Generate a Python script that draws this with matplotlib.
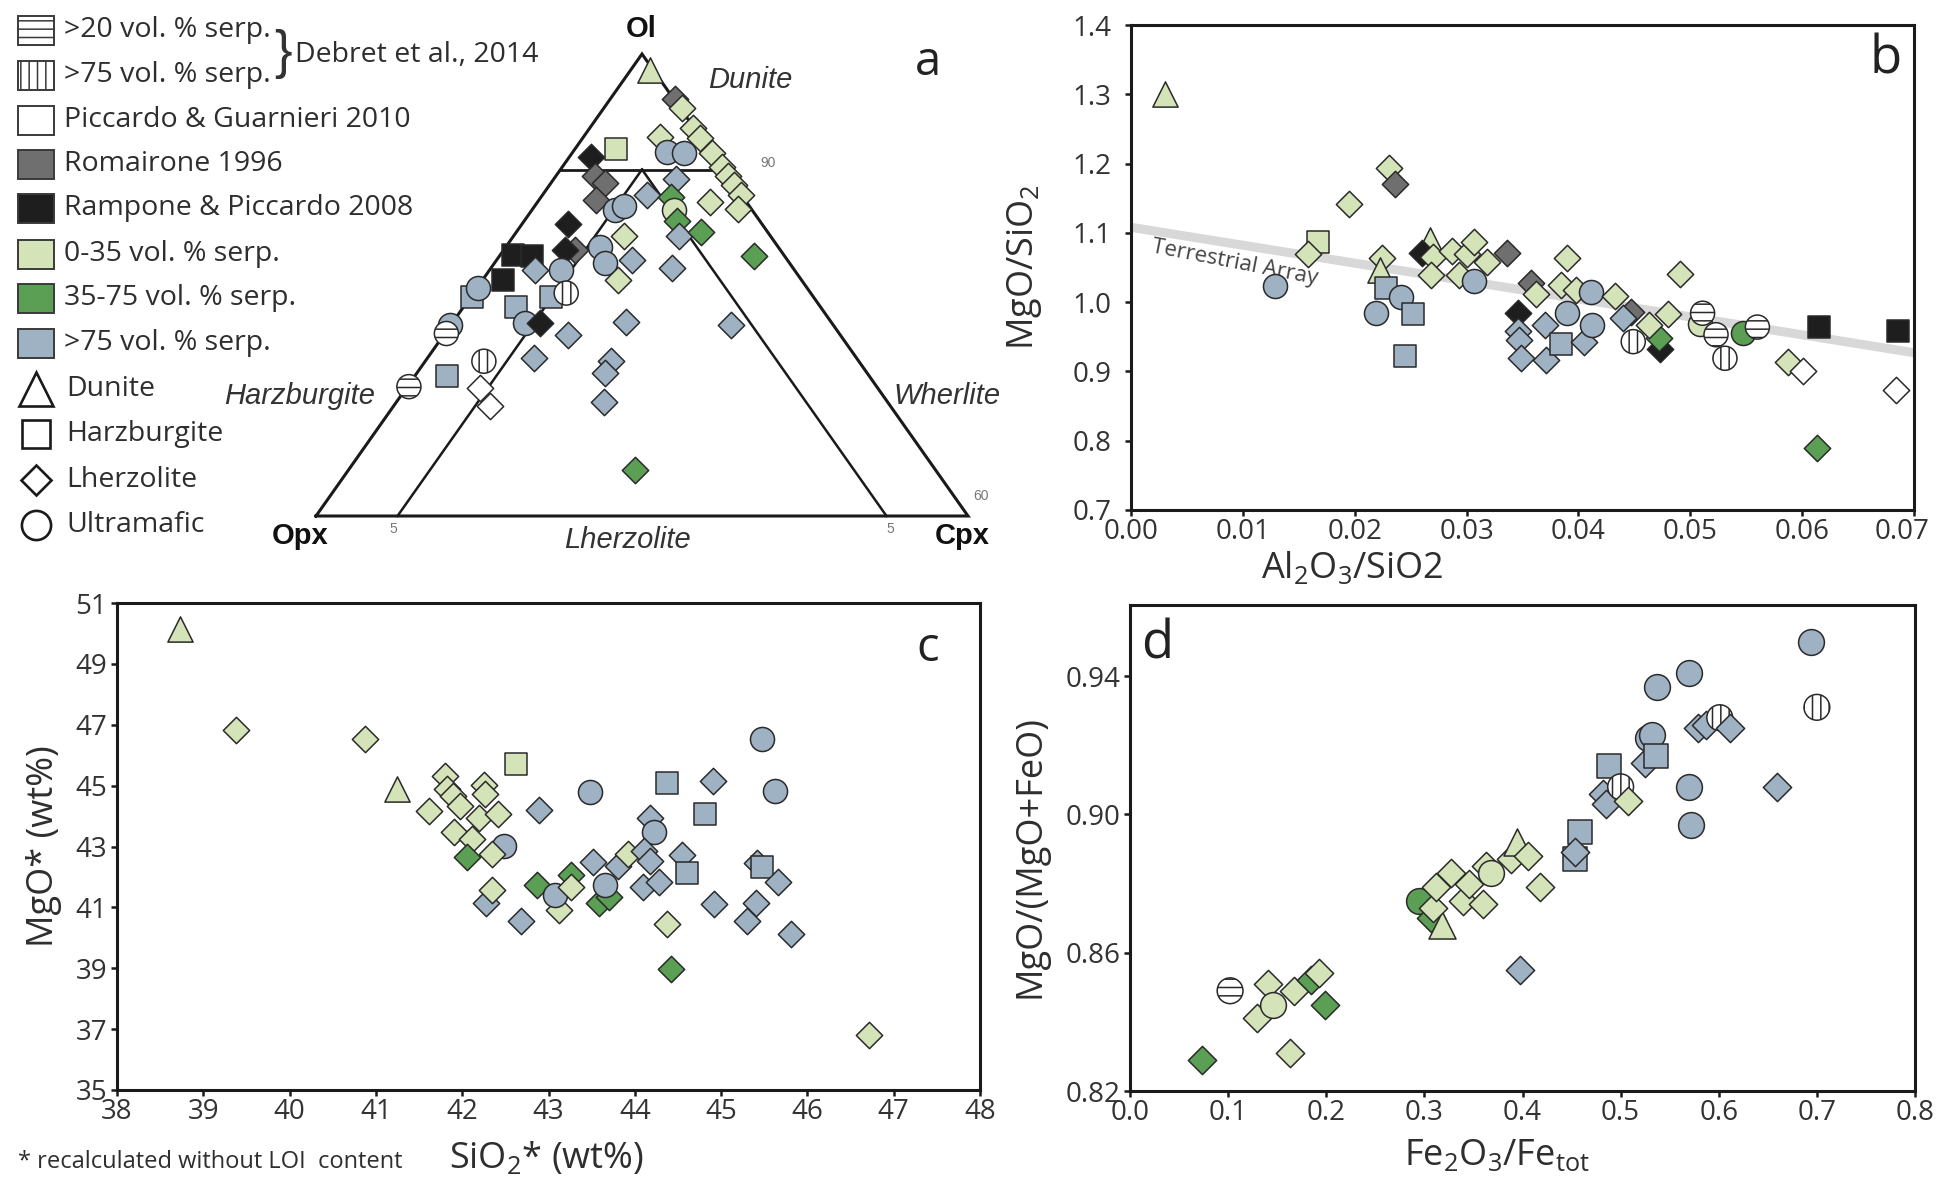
import numpy as np
import matplotlib
matplotlib.use("Agg")
import matplotlib.pyplot as plt
from matplotlib.patches import Rectangle
from matplotlib.transforms import ScaledTranslation

plt.rcParams['font.family'] = ['Open Sans', 'DejaVu Sans']
plt.rcParams['mathtext.fontset'] = 'custom'
plt.rcParams['mathtext.rm'] = 'Open Sans'
plt.rcParams['mathtext.it'] = 'Open Sans:italic'
plt.rcParams['hatch.linewidth'] = 1.1

# ---------------- data ----------------
# panel a : ternary Ol - Opx - Cpx (Ol >= 60 %)
a_ol = [98.6, 96.1, 95.3, 93.6, 92.7, 91.4, 90.2, 89.4, 88.7, 87.8, 86.6, 87.2, 92.8, 91.8,
        91.5, 91.4, 91.1, 89.4, 88.8, 87.4, 86.5, 86.8, 87.8, 89.2, 87.6, 86.5, 85.5, 84.2,
        84.6, 82.5, 84.2, 83.3, 82.2, 81.9, 80.4, 81.5, 85.3, 83.0, 83.0, 76.8, 76.5, 81.3,
        82.6, 82.5, 80.4, 81.3, 79.0, 79.3, 78.1, 76.7, 76.7, 75.7, 79.0, 79.7, 76.5, 75.8,
        73.7, 73.4, 72.1, 71.1, 69.5, 71.2, 73.4, 72.4, 69.9, 64.0]
a_cpx = [1.2, 4.0, 4.8, 6.3, 7.2, 8.6, 9.8, 10.6, 11.3, 12.2, 12.6, 10.6, 4.7, 2.5,
         5.8, 6.9, 1.3, 2.4, 3.3, 3.5, 5.1, 5.5, 6.4, 7.5, 8.0, 8.7, 9.4, 10.2,
         11.3, 15.6, 6.8, 5.8, 8.3, 6.8, 8.3, 11.1, 2.8, 4.4, 3.8, 10.6, 17.2, 4.4,
         0.8, 2.0, 1.3, 2.8, 4.9, 5.7, 3.2, 4.5, 5.4, 7.6, 0.1, 0.1, 0.0, 0.1,
         6.5, 3.6, 2.0, 4.5, 5.9, 0.1, 11.4, 11.5, 12.7, 17.6]
a_grp = ['lg', 'rom', 'lg', 'lg', 'lg', 'lg', 'lg', 'lg', 'lg', 'lg', 'lg', 'lg', 'lg', 'lg',
         'bl', 'bl', 'ram', 'rom', 'rom', 'rom', 'bl', 'bl', 'bl', 'bl', 'g', 'lg', 'g', 'bl',
         'g', 'g', 'lg', 'bl', 'bl', 'bl', 'lg', 'bl', 'ram', 'rom', 'ram', 'bl', 'bl', 'bl',
         'ram', 'ram', 'ram', 'bl', 'bl', 'dev', 'bl', 'bl', 'ram', 'bl', 'bl', 'bl', 'bl', 'deh',
         'bl', 'dev', 'bl', 'pic', 'pic', 'deh', 'bl', 'bl', 'bl', 'g']
a_shp = ['^', 'D', 'D', 'D', 'D', 'D', 'D', 'D', 'D', 'D', 'D', 'D', 'D', 's',
         'o', 'o', 'D', 'D', 'D', 'D', 'o', 'o', 'D', 'D', 'D', 'o', 'D', 'D',
         'D', 'D', 'D', 'o', 'D', 'o', 'D', 'D', 'D', 'D', 'D', 'D', 'D', 'o',
         's', 's', 's', 'D', 's', 'o', 's', 'o', 'D', 'D', 's', 'o', 'o', 'o',
         'D', 'o', 's', 'D', 'D', 'o', 'D', 'D', 'D', 'D']

# ternary field boundaries (Ol, Cpx)
tri_ol = [60, 60, 100, 60]
tri_cpx = [0, 40, 0, 0]
l90_ol = [90, 90]
l90_cpx = [0, 10]
lcpx5_ol = [90, 60]
lcpx5_cpx = [5, 5]
lopx5_ol = [90, 60]
lopx5_cpx = [5, 35]

# panel b : MgO/SiO2 vs Al2O3/SiO2
b_x = [0.003, 0.0231, 0.0236, 0.0195, 0.0167, 0.0158, 0.0129, 0.0224, 0.0223, 0.0228, 0.0219,
       0.0241, 0.0252, 0.0245, 0.0267, 0.0260, 0.0270, 0.0268, 0.0287, 0.0293, 0.0300, 0.0307,
       0.0307, 0.0318, 0.0336, 0.0390, 0.0358, 0.0362, 0.0346, 0.0346, 0.0347, 0.0349, 0.0370,
       0.0371, 0.0384, 0.0384, 0.0398, 0.0390, 0.0405, 0.0411, 0.0412, 0.0433, 0.0447, 0.0440,
       0.0449, 0.0473, 0.0472, 0.0463, 0.0480, 0.0491, 0.0509, 0.0511, 0.0523, 0.0531, 0.0547,
       0.0560, 0.0615, 0.0686, 0.0587, 0.0601, 0.0684, 0.0613]
b_y = [1.300, 1.193, 1.171, 1.141, 1.087, 1.069, 1.023, 1.063, 1.047, 1.020, 0.985,
       1.007, 0.983, 0.922, 1.089, 1.071, 1.065, 1.039, 1.074, 1.039, 1.069, 1.087,
       1.031, 1.058, 1.071, 1.064, 1.028, 1.012, 0.985, 0.959, 0.945, 0.919, 0.967,
       0.916, 0.940, 1.025, 1.018, 0.985, 0.943, 1.015, 0.967, 1.009, 0.986, 0.977,
       0.943, 0.932, 0.948, 0.967, 0.983, 1.040, 0.968, 0.984, 0.953, 0.919, 0.956,
       0.964, 0.964, 0.959, 0.914, 0.901, 0.873, 0.789]
b_grp = ['lg', 'lg', 'rom', 'lg', 'lg', 'lg', 'bl', 'lg', 'lg', 'bl', 'bl',
         'bl', 'bl', 'bl', 'lg', 'ram', 'lg', 'lg', 'lg', 'lg', 'lg', 'lg',
         'bl', 'lg', 'rom', 'lg', 'rom', 'lg', 'ram', 'bl', 'bl', 'bl', 'bl',
         'bl', 'bl', 'lg', 'lg', 'bl', 'bl', 'bl', 'bl', 'lg', 'rom', 'bl',
         'dev', 'ram', 'g', 'lg', 'lg', 'lg', 'lg', 'deh', 'deh', 'dev', 'g',
         'deh', 'ram', 'ram', 'lg', 'pic', 'pic', 'g']
b_shp = ['^', 'D', 'D', 'D', 's', 'D', 'o', 'D', '^', 's', 'o',
         'o', 's', 's', '^', 'D', 'D', 'D', 'D', 'D', 'D', 'D',
         'o', 'D', 'D', 'D', 'D', 'D', 'D', 'D', 'D', 'D', 'D',
         'D', 's', 'D', 'D', 'o', 'D', 'o', 'o', 'D', 'D', 'D',
         'o', 'D', 'D', 'D', 'D', 'D', 'o', 'o', 'o', 'o', 'o',
         'o', 's', 's', 'D', 'D', 'D', 'D']
ta_x = [0.0, 0.07]          # terrestrial array
ta_y = [1.108, 0.927]

# panel c : MgO* vs SiO2*
c_x = [38.73, 39.38, 40.87, 42.62, 41.24, 41.80, 41.82, 41.89, 41.97, 41.61, 42.25, 42.26,
       42.19, 42.42, 41.91, 42.11, 42.05, 42.48, 42.34, 42.28, 42.34, 42.89, 43.48, 42.68,
       42.87, 43.12, 43.07, 43.26, 43.26, 43.59, 43.70, 43.65, 43.52, 43.80, 43.92, 44.18,
       44.22, 44.11, 44.18, 44.09, 44.28, 44.37, 44.81, 44.91, 44.55, 44.61, 44.37, 44.42,
       44.92, 45.47, 45.62, 45.42, 45.47, 45.66, 45.40, 45.30, 45.81, 46.71]
c_y = [50.13, 46.82, 46.52, 45.71, 44.90, 45.32, 44.90, 44.65, 44.32, 44.16, 45.03, 44.71,
       43.94, 44.07, 43.48, 43.23, 42.65, 43.03, 42.77, 41.16, 41.57, 44.19, 44.78, 40.54,
       41.74, 40.93, 41.42, 42.06, 41.68, 41.16, 41.35, 41.74, 42.48, 42.35, 42.77, 43.94,
       43.48, 42.84, 42.52, 41.68, 41.83, 45.10, 44.07, 45.16, 42.71, 42.13, 40.45, 38.97,
       41.12, 46.52, 44.81, 42.45, 42.32, 41.83, 41.16, 40.54, 40.13, 36.81]
c_grp = ['lg', 'lg', 'lg', 'lg', 'lg', 'lg', 'lg', 'lg', 'lg', 'lg', 'lg', 'lg',
         'lg', 'lg', 'lg', 'lg', 'g', 'bl', 'lg', 'bl', 'lg', 'bl', 'bl', 'bl',
         'g', 'lg', 'bl', 'g', 'lg', 'g', 'g', 'bl', 'bl', 'bl', 'lg', 'bl',
         'bl', 'bl', 'bl', 'bl', 'bl', 'bl', 'bl', 'bl', 'bl', 'bl', 'lg', 'g',
         'bl', 'bl', 'bl', 'bl', 'bl', 'bl', 'bl', 'bl', 'bl', 'lg']
c_shp = ['^', 'D', 'D', 's', '^', 'D', 'D', 'D', 'D', 'D', 'D', 'D',
         'D', 'D', 'D', 'D', 'D', 'o', 'D', 'D', 'D', 'D', 'o', 'D',
         'D', 'D', 'o', 'D', 'D', 'D', 'D', 'o', 'D', 'D', 'D', 'D',
         'o', 'D', 'D', 'D', 'D', 's', 's', 'D', 'D', 's', 'D', 'D',
         'D', 'o', 'o', 'D', 's', 'D', 'D', 'D', 'D', 'D']

# panel d : MgO/(MgO+FeO) vs Fe2O3/Fetot
d_x = [0.073, 0.102, 0.129, 0.141, 0.146, 0.163, 0.167, 0.184, 0.193, 0.199, 0.295, 0.307,
       0.318, 0.309, 0.312, 0.327, 0.339, 0.345, 0.360, 0.363, 0.368, 0.388, 0.394, 0.406,
       0.418, 0.397, 0.453, 0.459, 0.453, 0.482, 0.485, 0.488, 0.500, 0.508, 0.528, 0.532,
       0.525, 0.536, 0.537, 0.570, 0.570, 0.572, 0.579, 0.587, 0.601, 0.611, 0.659, 0.694, 0.700]
d_y = [0.829, 0.849, 0.841, 0.851, 0.845, 0.831, 0.849, 0.852, 0.854, 0.845, 0.875, 0.870,
       0.868, 0.873, 0.879, 0.883, 0.875, 0.880, 0.874, 0.885, 0.883, 0.887, 0.892, 0.888,
       0.879, 0.855, 0.887, 0.895, 0.889, 0.906, 0.903, 0.914, 0.908, 0.904, 0.922, 0.923,
       0.915, 0.917, 0.937, 0.941, 0.908, 0.897, 0.925, 0.926, 0.928, 0.925, 0.908, 0.950, 0.931]
d_grp = ['g', 'deh', 'lg', 'lg', 'lg', 'lg', 'lg', 'g', 'lg', 'g', 'g', 'g',
         'lg', 'lg', 'lg', 'lg', 'lg', 'lg', 'lg', 'lg', 'lg', 'lg', 'lg', 'lg',
         'lg', 'bl', 'bl', 'bl', 'bl', 'bl', 'bl', 'bl', 'dev', 'lg', 'bl', 'bl',
         'bl', 'bl', 'bl', 'bl', 'bl', 'bl', 'bl', 'bl', 'dev', 'bl', 'bl', 'bl', 'dev']
d_shp = ['D', 'o', 'D', 'D', 'o', 'D', 'D', 'D', 'D', 'D', 'o', 'D',
         '^', 'D', 'D', 'D', 'D', 'D', 'D', 'D', 'o', 'D', '^', 'D',
         'D', 'D', 's', 's', 'D', 'D', 'D', 's', 'o', 'D', 'o', 'o',
         'D', 's', 'o', 'o', 'o', 'o', 'D', 'D', 'o', 'D', 'D', 'o', 'o']

# legend entries
leg_groups = ['deh', 'dev', 'pic', 'rom', 'ram', 'lg', 'g', 'bl']
leg_labels = ['>20 vol. % serp.', '>75 vol. % serp.', 'Piccardo & Guarnieri 2010', 'Romairone 1996',
              'Rampone & Piccardo 2008', '0-35 vol. % serp.', '35-75 vol. % serp.', '>75 vol. % serp.']
shape_keys = ['^', 's', 'D', 'o']
shape_labels = ['Dunite', 'Harzburgite', 'Lherzolite', 'Ultramafic']

# ---------------- styles ----------------
FACE = {'lg': '#d5e4b8', 'g': '#5b9f55', 'bl': '#9fb2c3', 'rom': '#6f6f6f', 'ram': '#1e1e1e',
        'pic': 'white', 'deh': 'white', 'dev': 'white'}
HATCH = {'deh': '--', 'dev': '||'}
SIZE = {'D': 180, 's': 245, '^': 330, 'o': 300}
EDGE = '#2a2a2a'
TXT = '#2e2e2e'

W, H = 1936, 1177
fig = plt.figure(figsize=(W / 100, H / 100), dpi=100)


def pos(l, t, r, b):
    return [l / W, 1 - b / H, (r - l) / W, (b - t) / H]


def draw_points(ax, xs, ys, grps, shps, scale=1.0):
    for x, y, g, s in zip(xs, ys, grps, shps):
        ax.scatter([x], [y], marker=s, s=SIZE[s] * scale, facecolors=FACE[g], edgecolors=EDGE,
                   linewidths=1.1, hatch=HATCH.get(g), zorder=3, clip_on=False)


def style_axes(ax, pad):
    for sp in ax.spines.values():
        sp.set_linewidth(2.2)
        sp.set_color('#1a1a1a')
    ax.tick_params(axis='both', which='both', direction='out', length=4, width=1.8,
                   labelsize=20, labelcolor='#333333', color='#1a1a1a', top=False, right=False)
    ax.tick_params(axis='y', pad=pad)
    ax.tick_params(axis='x', pad=2)


# ---------------- panel a (ternary) ----------------
axa = fig.add_axes(pos(316, 54, 968, 516))
axa.set_xlim(30, 70)
axa.set_ylim(60, 100)
axa.axis('off')


def tern(ol, cpx):
    ol = np.asarray(ol, float)
    cpx = np.asarray(cpx, float)
    return cpx + ol / 2.0, ol


for o, c, lw in [(tri_ol, tri_cpx, 2.2), (l90_ol, l90_cpx, 2.0), (lcpx5_ol, lcpx5_cpx, 1.8),
                 (lopx5_ol, lopx5_cpx, 1.8)]:
    X, Y = tern(o, c)
    axa.plot(X, Y, color='#1a1a1a', lw=lw, clip_on=False, zorder=2, solid_joinstyle='miter')
AX, AY = tern(a_ol, a_cpx)
draw_points(axa, AX, AY, a_grp, a_shp)

# ---------------- panel b ----------------
axb = fig.add_axes(pos(1131, 25, 1914, 510))
axb.plot(ta_x, ta_y, color='#d8d8d8', lw=6.5, zorder=1, solid_capstyle='butt')
draw_points(axb, b_x, b_y, b_grp, b_shp)
axb.set_xlim(0, 0.07)
axb.set_ylim(0.7, 1.4)
bx_t = [0.00, 0.01, 0.02, 0.03, 0.04, 0.05, 0.06, 0.07]
by_t = [0.7, 0.8, 0.9, 1.0, 1.1, 1.2, 1.3, 1.4]
axb.set_xticks(bx_t)
axb.set_xticklabels([f"{v:.2f}" for v in bx_t])
axb.set_yticks(by_t)
axb.set_yticklabels([f"{v:.1f}" for v in by_t])
style_axes(axb, 10)
last = axb.get_xticklabels()[-1]
last.set_transform(last.get_transform() + ScaledTranslation(-0.12, 0, fig.dpi_scale_trans))
axb.text(0.0093, 1.057, 'Terrestrial Array', fontsize=16, color='#444444', rotation=-11,
         ha='center', va='center', zorder=2)

# ---------------- panel c ----------------
axc = fig.add_axes(pos(117, 603, 980, 1090))
draw_points(axc, c_x, c_y, c_grp, c_shp)
axc.set_xlim(38, 48)
axc.set_ylim(35, 51)
axc.set_xticks(list(range(38, 49)))
axc.set_yticks(list(range(35, 52, 2)))
style_axes(axc, 3)

# ---------------- panel d ----------------
axd = fig.add_axes(pos(1130, 605, 1915, 1091))
draw_points(axd, d_x, d_y, d_grp, d_shp, scale=1.15)
axd.set_xlim(0, 0.8)
axd.set_ylim(0.82, 0.9606)
dx_t = [0.0, 0.1, 0.2, 0.3, 0.4, 0.5, 0.6, 0.7, 0.8]
dy_t = [0.82, 0.86, 0.90, 0.94]
axd.set_xticks(dx_t)
axd.set_xticklabels([f"{v:.1f}" for v in dx_t])
axd.set_yticks(dy_t)
axd.set_yticklabels([f"{v:.2f}" for v in dy_t])
style_axes(axd, 3)

# ---------------- overlay (legend + labels) ----------------
ov = fig.add_axes([0, 0, 1, 1], zorder=5)
ov.set_xlim(0, W)
ov.set_ylim(H, 0)
ov.axis('off')
ov.patch.set_alpha(0)

row_y = [30, 75, 120, 164, 208, 254, 298, 343]
for yy, g, lab in zip(row_y, leg_groups, leg_labels):
    ov.add_patch(Rectangle((18, yy - 14.5), 36, 29, facecolor=FACE[g], edgecolor='#3a3a3a',
                           lw=1.4, hatch=HATCH.get(g)))
    ov.text(64, yy, lab, fontsize=20.5, color=TXT, ha='left', va='center')
shape_y = [389, 434, 480, 525]
shape_ms = {'^': 24, 's': 20, 'D': 15.5, 'o': 21}
for yy, s, lab in zip(shape_y, shape_keys, shape_labels):
    ov.plot([36], [yy], marker=s, ms=shape_ms[s], mfc='white', mec='#1a1a1a', mew=1.9,
            linestyle='none')
    ov.text(66, yy, lab, fontsize=20.5, color=TXT, ha='left', va='center')
ov.text(283, 54, '}', fontsize=38, color='#333333', ha='center', va='center',
        family='Liberation Sans')
ov.text(295, 55, 'Debret et al., 2014', fontsize=20.5, color=TXT, ha='left', va='center')

# ternary labels
AR = ['Liberation Sans', 'DejaVu Sans']
ov.text(641, 29, 'Ol', fontsize=21, fontweight='bold', family=AR, ha='center', va='center', color='#111')
ov.text(300, 536, 'Opx', fontsize=21, fontweight='bold', family=AR, ha='center', va='center', color='#111')
ov.text(962, 536, 'Cpx', fontsize=21, fontweight='bold', family=AR, ha='center', va='center', color='#111')
for tx, ty, t in [(750, 80, 'Dunite'), (300, 396, 'Harzburgite'), (947, 396, 'Wherlite'),
                  (627, 540, 'Lherzolite')]:
    ov.text(tx, ty, t, fontsize=21, style='italic', family=AR, ha='center', va='center', color='#333')
for tx, ty, t in [(768, 163, '90'), (981, 496, '60'), (393, 529, '5'), (890, 529, '5')]:
    ov.text(tx, ty, t, fontsize=10, family=AR, ha='center', va='center', color='#777777')

# panel letters
ov.text(928, 62, 'a', fontsize=34, color='#222', ha='center', va='center')
ov.text(1886, 60, 'b', fontsize=38, color='#222', ha='center', va='center')
ov.text(928, 648, 'c', fontsize=34, color='#222', ha='center', va='center')
ov.text(1157, 645, 'd', fontsize=38, color='#222', ha='center', va='center')

# axis labels
LS = 26
ov.text(1352, 568, r'Al$_2$O$_3$/SiO2', fontsize=LS, color=TXT, ha='center', va='center')
ov.text(1024, 267, r'MgO/SiO$_2$', fontsize=LS, color=TXT, ha='center', va='center', rotation=90)
ov.text(44, 846, 'MgO* (wt%)', fontsize=LS, color=TXT, ha='center', va='center', rotation=90)
ov.text(546, 1158, r'SiO$_2$* (wt%)', fontsize=LS, color=TXT, ha='center', va='center')
ov.text(18, 1162, '* recalculated without LOI  content', fontsize=17, color=TXT, ha='left', va='center')
ov.text(1031, 856, 'MgO/(MgO+FeO)', fontsize=LS, color=TXT, ha='center', va='center', rotation=90)
ov.text(1497, 1156, r'Fe$_2$O$_3$/Fe$_{\mathrm{tot}}$', fontsize=LS, color=TXT, ha='center', va='center')

fig.savefig('out.png', dpi=100)
